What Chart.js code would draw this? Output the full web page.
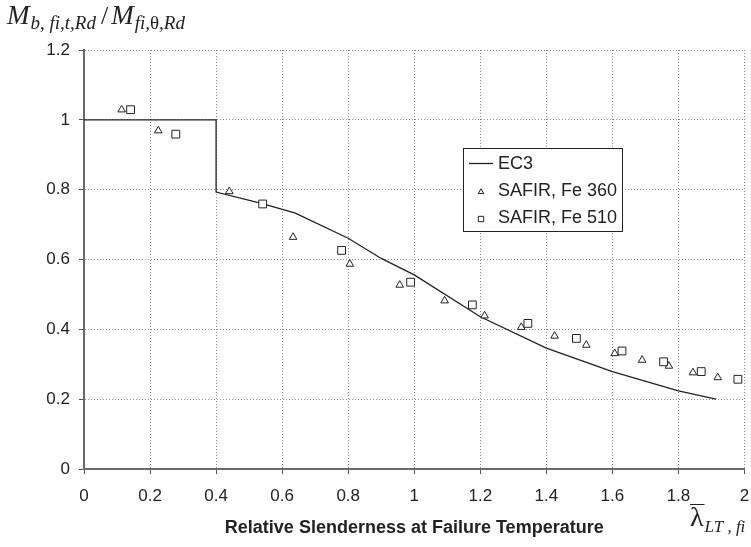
<!DOCTYPE html>
<html><head><meta charset="utf-8">
<script src="https://cdn.jsdelivr.net/npm/chart.js@4/dist/chart.umd.min.js"></script>
<style>html,body{margin:0;padding:0;background:#fff}#c{display:block}</style>
</head><body>
<canvas id="c" width="751" height="547"></canvas>
<script>
// ---- data ----
const seriesNames = ['EC3', 'SAFIR, Fe 360', 'SAFIR, Fe 510'];
const ec3X = [0, 0.4, 0.4, 0.54, 0.64, 0.8, 0.9, 1.0, 1.2, 1.4, 1.6, 1.8, 1.914];
const ec3Y = [1, 1, 0.793, 0.76, 0.733, 0.661, 0.603, 0.556, 0.436, 0.346, 0.279, 0.224, 0.2];
const fe360X = [0.114, 0.225, 0.44, 0.633, 0.805, 0.956, 1.092, 1.213, 1.324, 1.425, 1.521, 1.607, 1.69, 1.771, 1.844, 1.919];
const fe360Y = [1.029, 0.969, 0.795, 0.664, 0.587, 0.527, 0.482, 0.439, 0.406, 0.381, 0.355, 0.331, 0.312, 0.295, 0.276, 0.262];
const fe510X = [0.141, 0.278, 0.541, 0.78, 0.989, 1.176, 1.344, 1.491, 1.629, 1.755, 1.869, 1.98];
const fe510Y = [1.029, 0.959, 0.759, 0.626, 0.535, 0.47, 0.417, 0.374, 0.338, 0.307, 0.279, 0.257];
const xTicks = [0, 0.2, 0.4, 0.6, 0.8, 1, 1.2, 1.4, 1.6, 1.8, 2];
const yTicks = [0, 0.2, 0.4, 0.6, 0.8, 1, 1.2];
const xTitle = 'Relative Slenderness at Failure Temperature';

const pts = (xs, ys) => xs.map((x, i) => ({x: x, y: ys[i]}));
const INK = '#222';
const SANS = '"Liberation Sans", Arial, sans-serif';
const SERIF = '"Liberation Serif", "Times New Roman", serif';

function drawMarker(ctx, style, x, y, r) {
  ctx.beginPath();
  if (style === 'triangle') {
    ctx.moveTo(x, y - r);
    ctx.lineTo(x + r * 0.866, y + r * 0.5);
    ctx.lineTo(x - r * 0.866, y + r * 0.5);
    ctx.closePath();
  } else {
    const s = r * Math.SQRT1_2;
    ctx.rect(x - s, y - s, 2 * s, 2 * s);
  }
  ctx.fillStyle = '#fff';
  ctx.fill();
  ctx.lineWidth = 1;
  ctx.strokeStyle = INK;
  ctx.stroke();
}

const boxLegend = {
  id: 'boxLegend',
  afterDraw(chart) {
    const ctx = chart.ctx;
    const L = 463, T = 148, R = 622, B = 231;
    ctx.save();
    ctx.fillStyle = '#fff';
    ctx.fillRect(L, T, R - L, B - T);
    ctx.lineWidth = 1;
    ctx.strokeStyle = INK;
    ctx.strokeRect(L + 0.5, T + 0.5, R - L, B - T);
    const rows = [163, 190, 217];
    ctx.font = '18px ' + SANS;
    ctx.textBaseline = 'middle';
    chart.data.datasets.forEach((ds, i) => {
      const y = rows[i];
      if (i === 0) {
        ctx.beginPath();
        ctx.moveTo(469, y + 0.5);
        ctx.lineTo(493, y + 0.5);
        ctx.lineWidth = 1.3;
        ctx.strokeStyle = INK;
        ctx.stroke();
      } else {
        drawMarker(ctx, ds.pointStyle, 481, y + 2, ds.pointStyle === 'triangle' ? 3.2 : 3.8);
      }
      ctx.fillStyle = INK;
      ctx.fillText(ds.label, 498, y + 1);
    });
    ctx.restore();
  }
};

const axisTexts = {
  id: 'axisTexts',
  afterDraw(chart) {
    const ctx = chart.ctx;
    ctx.save();
    ctx.fillStyle = INK;
    ctx.textBaseline = 'alphabetic';
    // y-axis title  M_{b,fi,t,Rd} / M_{fi,θ,Rd}
    let x = 7;
    const big = 'italic 27px ' + SERIF, sub = 'italic 19px ' + SERIF;
    ctx.font = big; ctx.fillText('M', x, 24); x += ctx.measureText('M').width + 1;
    ctx.font = sub; ctx.fillText('b, fi,t,Rd', x, 29); x += ctx.measureText('b, fi,t,Rd').width + 5;
    ctx.font = '26px ' + SERIF; ctx.fillText('/', x, 24); x += ctx.measureText('/').width + 3;
    ctx.font = big; ctx.fillText('M', x, 24); x += ctx.measureText('M').width + 1;
    ctx.font = sub; ctx.fillText('fi,', x, 29); x += ctx.measureText('fi,').width;
    ctx.font = '19px ' + SERIF; ctx.fillText('θ', x, 29); x += ctx.measureText('θ').width;
    ctx.font = sub; ctx.fillText(',Rd', x, 29);
    // x-axis symbol  λ̄_{LT,fi}
    let lx = 690;
    ctx.font = '28px ' + SERIF;
    const lw = ctx.measureText('λ').width;
    ctx.fillText('λ', lx, 526);
    ctx.beginPath();
    ctx.moveTo(lx, 504.5); ctx.lineTo(lx + lw + 1, 504.5);
    ctx.lineWidth = 1; ctx.strokeStyle = INK; ctx.stroke();
    ctx.font = 'italic 17px ' + SERIF;
    ctx.fillText('LT , fi', lx + lw + 1, 532);
    ctx.restore();
  }
};

const gridCommon = {
  color: '#8a8a8a',
  lineWidth: 1,
  drawTicks: true,
  tickLength: 5,
  tickColor: '#555',
  tickWidth: 1,
  tickBorderDash: []
};

new Chart(document.getElementById('c'), {
  type: 'scatter',
  data: {
    datasets: [
      {label: seriesNames[0], data: pts(ec3X, ec3Y), showLine: true, tension: 0,
       borderColor: INK, borderWidth: 1.3, pointRadius: 0, pointHoverRadius: 0, order: 3},
      {label: seriesNames[1], data: pts(fe360X, fe360Y), pointStyle: 'triangle', pointRadius: 4.4,
       borderColor: INK, backgroundColor: '#fff', borderWidth: 1, order: 2},
      {label: seriesNames[2], data: pts(fe510X, fe510Y), pointStyle: 'rect', pointRadius: 5.5,
       borderColor: INK, backgroundColor: '#fff', borderWidth: 1, order: 1}
    ]
  },
  options: {
    responsive: false,
    animation: false,
    events: [],
    layout: {padding: {top: 50, right: 6, left: 0, bottom: 0}},
    plugins: {legend: {display: false}, tooltip: {enabled: false}, title: {display: false}},
    scales: {
      x: {
        type: 'linear', min: 0, max: 2,
        afterBuildTicks: s => { s.ticks = xTicks.map(v => ({value: v})); },
        afterFit: s => { s.height = 78; s.paddingLeft = 0; s.paddingRight = 0; },
        ticks: {callback: v => String(v), color: INK, font: {family: SANS, size: 17}, padding: 12, maxRotation: 0, autoSkip: false},
        grid: gridCommon,
        border: {display: true, color: '#6a6a6a', width: 2, dash: [1, 2]},
        title: {display: true, text: xTitle, color: INK, font: {family: SANS, size: 18, weight: 'bold'}, padding: {top: 0, bottom: 8}}
      },
      y: {
        type: 'linear', min: 0, max: 1.2,
        afterBuildTicks: s => { s.ticks = yTicks.map(v => ({value: v})); },
        afterFit: s => { s.width = 84; s.paddingTop = 0; s.paddingBottom = 0; },
        ticks: {callback: v => String(v), color: INK, font: {family: SANS, size: 17}, padding: 9},
        grid: gridCommon,
        border: {display: true, color: '#6a6a6a', width: 2, dash: [1, 2]}
      }
    }
  },
  plugins: [boxLegend, axisTexts]
});
</script>
</body></html>
